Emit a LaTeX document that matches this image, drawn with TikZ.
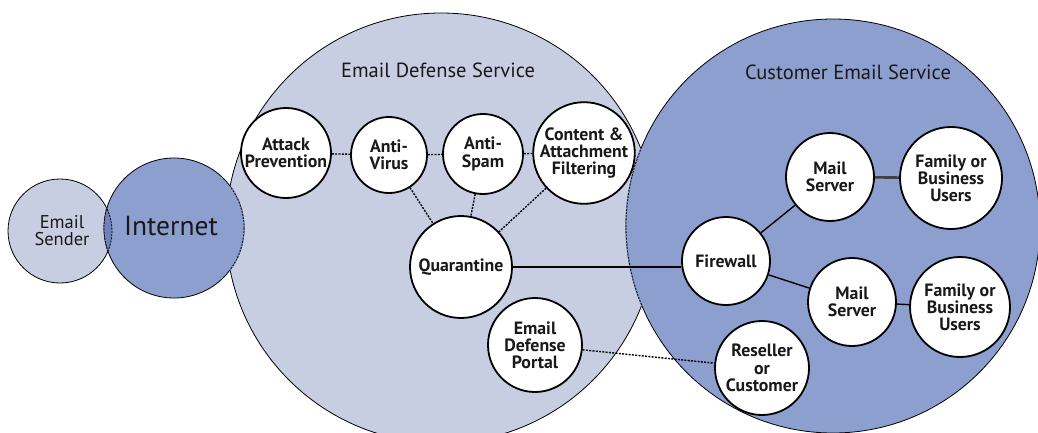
\documentclass[tikz,border=0pt]{standalone}
\usepackage{fontspec}
\setmainfont{PT Sans}
\definecolor{lightc}{RGB}{200,206,226}
\definecolor{darkc}{RGB}{140,159,207}
\definecolor{lensc}{RGB}{112,130,186}
\definecolor{txt}{RGB}{25,25,25}
\tikzset{
  big/.style={circle, draw=black, line width=0.8pt, inner sep=0pt},
  small/.style={circle, draw=black, line width=1.8pt, fill=white, inner sep=0pt, align=center,
    text=txt, font=\fontsize{17.8}{17.2}\selectfont\bfseries},
  title/.style={text=txt, font=\fontsize{20.5}{20.5}\selectfont},
  dline/.style={line width=1.4pt, dash pattern=on 2pt off 1.3pt},
  sline/.style={line width=1.4pt},
  arcdash/.style={line width=0.8pt, dash pattern=on 2pt off 1.2pt}
}
\begin{document}
\begin{tikzpicture}[x=1pt,y=-1pt]
\useasboundingbox (0,0) rectangle (1038,433);
\begin{scope}
\clip (0,0) rectangle (1038,433);
% big circles
\node[big, fill=lightc, minimum size=430] (eds) at (441,228) {};
\node[big, fill=darkc, minimum size=414] (ces) at (833,226) {};
\begin{scope}
  \clip (441,228) circle[radius=215];
  \draw[darkc, line width=1.4pt] (833,226) circle[radius=207];
  \draw[arcdash] (833,226) circle[radius=207];
\end{scope}
\node[big, fill=lightc, minimum size=104] (snd) at (60,231) {};
\node[big, fill=darkc, minimum size=140] (inet) at (174,228) {};
\begin{scope}
  \clip (60,231) circle[radius=52];
  \fill[lensc] (174,228) circle[radius=70];
  \draw[arcdash] (174,228) circle[radius=70];
\end{scope}
\begin{scope}
  \clip (174,228) circle[radius=70];
  \draw[arcdash] (60,231) circle[radius=52];
\end{scope}
\begin{scope}
  \clip (441,228) circle[radius=215];
  \draw[darkc, line width=1.4pt] (174,228) circle[radius=70];
  \draw[arcdash] (174,228) circle[radius=70];
\end{scope}
\end{scope}
% titles
\node[title] (tEds) at (438,70) {Email Defense Service};
\node[title] (tCes) at (848,72) {Customer Email Service};
\node[text=txt, font=\fontsize{27.5}{27.5}\selectfont] (tInet) at (171,226) {Internet};
\node[text=txt, align=center, font=\fontsize{18.5}{17}\selectfont] (tSnd) at (62,231) {Email\\Sender};
% small nodes
\node[small, minimum size=90] (ap) at (286,153) {Attack\\Prevention};
\node[small, minimum size=76] (av) at (389,155) {Anti-\\Virus};
\node[small, minimum size=80] (as) at (483,154) {Anti-\\Spam};
\node[small, minimum size=92] (caf) at (584,153) {Content \&\\Attachment\\Filtering};
\node[small, minimum size=102] (q) at (461,267) {Quarantine};
\node[small, minimum size=94] (portal) at (535,345) {Email\\Defense\\Portal};
\node[small, minimum size=88] (fw) at (726,261) {Firewall};
\node[small, minimum size=88] (ms1) at (830,177) {Mail\\Server};
\node[small, minimum size=102] (fb1) at (951,178) {Family or\\Business\\Users};
\node[small, minimum size=88] (ms2) at (852,302) {Mail\\Server};
\node[small, minimum size=100] (fb2) at (960,307) {Family or\\Business\\Users};
\node[small, minimum size=94] (rc) at (762,368) {Reseller\\or\\Customer};
% connectors
\draw[dline] (ap) -- (av);
\draw[dline] (av) -- (as);
\draw[dline] (as) -- (caf);
\draw[dline] (av) -- (q);
\draw[dline] (as) -- (q);
\draw[dline] (caf) -- (q);
\draw[dline] (portal) -- (rc);
\draw[sline] (q.east) -- (q.east -| fw.west);
\draw[sline] (fw) -- (ms1);
\draw[sline] (fw) -- (ms2);
\draw[line width=2.6pt, black!75] (ms1) -- (fb1);
\draw[sline] (ms2) -- (fb2);
\end{tikzpicture}
\end{document}
